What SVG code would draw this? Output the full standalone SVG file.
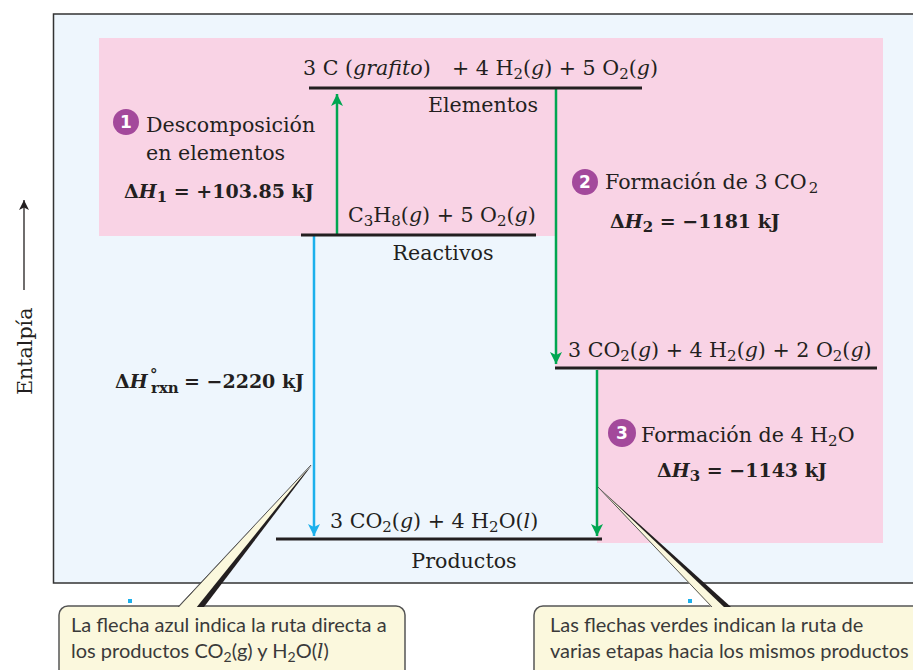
<svg xmlns="http://www.w3.org/2000/svg" width="913" height="670" viewBox="0 0 913 670">
<defs>
<style>
.t{font-family:"DejaVu Serif","Liberation Serif",serif;font-size:20.6px;fill:#231f20}
.b{font-weight:bold;font-size:19px}
.i{font-style:italic}
.s{font-size:15px}
.lvl{stroke:#231f20;stroke-width:3}
.g{stroke:#00a651;stroke-width:2.5;fill:none}
.bl{stroke:#1cb0ec;stroke-width:2.5;fill:none}
.num{font-family:"DejaVu Sans","Liberation Sans",sans-serif;font-size:17px;font-weight:bold;fill:#fff}
.c{fill:#a3499b}
.co{font-family:"Lato","Liberation Sans",sans-serif;font-size:20px;fill:#3a3a3a}
.cs{font-size:14px}
.box{fill:#fbf8dd;stroke:#555;stroke-width:1.5}
</style>
<marker id="ag" markerUnits="userSpaceOnUse" markerWidth="14" markerHeight="16" refX="12" refY="6" orient="auto">
<path d="M0,0 L12,6 L0,12 L3,6 Z" fill="#00a651"/>
</marker>
<marker id="ab" markerUnits="userSpaceOnUse" markerWidth="14" markerHeight="16" refX="12" refY="6" orient="auto">
<path d="M0,0 L12,6 L0,12 L3,6 Z" fill="#1cb0ec"/>
</marker>
<marker id="ak" markerUnits="userSpaceOnUse" markerWidth="12" markerHeight="12" refX="10" refY="5" orient="auto">
<path d="M0,0 L10,5 L0,10 L2.5,5 Z" fill="#231f20"/>
</marker>
</defs>
<rect x="0" y="0" width="913" height="670" fill="#fff"/>
<rect id="frame" x="53.5" y="14" width="870" height="569" fill="#eef6fd" stroke="#333" stroke-width="1.5"/>
<polygon id="pink" points="99,38 883,38 883,543 597,543 597,368 555,368 555,236 99,236" fill="#f9d3e5"/>

<g id="axis">
<line x1="24" y1="290" x2="24" y2="200" stroke="#231f20" stroke-width="1.3" marker-end="url(#ak)"/>
<text class="t" transform="translate(32,395) rotate(-90)">Entalpía</text>
</g>

<g id="connectors">
<line class="g" x1="337" y1="234" x2="337" y2="94" marker-end="url(#ag)"/>
<line class="g" x1="556" y1="89" x2="556" y2="364" marker-end="url(#ag)"/>
<line class="g" x1="597" y1="370" x2="597" y2="536" marker-end="url(#ag)"/>
<line class="bl" x1="314" y1="236" x2="314" y2="536" marker-end="url(#ab)"/>
</g>

<g id="elementos">
<line class="lvl" x1="309" y1="88" x2="642" y2="88"/>
<text class="t" x="303" y="75">3 C (<tspan class="i">grafito</tspan>)</text>
<text class="t" x="452" y="75">+ 4 H<tspan class="s" dy="4">2</tspan><tspan dy="-4">(</tspan><tspan class="i">g</tspan>) + 5 O<tspan class="s" dy="4">2</tspan><tspan dy="-4">(</tspan><tspan class="i">g</tspan>)</text>
<text class="t" x="483" y="112" text-anchor="middle">Elementos</text>
</g>

<g id="reactivos">
<line class="lvl" x1="301" y1="235" x2="536" y2="235"/>
<text class="t" x="348" y="222">C<tspan class="s" dy="4">3</tspan><tspan dy="-4">H</tspan><tspan class="s" dy="4">8</tspan><tspan dy="-4">(</tspan><tspan class="i">g</tspan>) + 5 O<tspan class="s" dy="4">2</tspan><tspan dy="-4">(</tspan><tspan class="i">g</tspan>)</text>
<text class="t" x="443" y="260" text-anchor="middle">Reactivos</text>
</g>

<g id="intermedio">
<line class="lvl" x1="555" y1="368" x2="877" y2="368"/>
<text class="t" x="568" y="357">3 CO<tspan class="s" dy="4">2</tspan><tspan dy="-4">(</tspan><tspan class="i">g</tspan>) + 4 H<tspan class="s" dy="4">2</tspan><tspan dy="-4">(</tspan><tspan class="i">g</tspan>) + 2 O<tspan class="s" dy="4">2</tspan><tspan dy="-4">(</tspan><tspan class="i">g</tspan>)</text>
</g>

<g id="productos">
<line class="lvl" x1="276" y1="539" x2="602" y2="539"/>
<text class="t" x="330" y="528">3 CO<tspan class="s" dy="4">2</tspan><tspan dy="-4">(</tspan><tspan class="i">g</tspan>) + 4 H<tspan class="s" dy="4">2</tspan><tspan dy="-4">O(</tspan><tspan class="i">l</tspan>)</text>
<text class="t" x="464" y="568" text-anchor="middle">Productos</text>
</g>

<g id="paso1">
<circle class="c" cx="126" cy="122" r="13"/>
<text class="num" x="126" y="128" text-anchor="middle">1</text>
<text class="t" x="146" y="132">Descomposición</text>
<text class="t" x="146" y="160">en elementos</text>
<text class="t b" x="124" y="198">Δ<tspan class="i">H</tspan><tspan class="s" dy="4">1</tspan><tspan dy="-4"> = +103.85 kJ</tspan></text>
</g>

<g id="paso2">
<circle class="c" cx="585" cy="182" r="13"/>
<text class="num" x="585" y="188" text-anchor="middle">2</text>
<text class="t" x="605" y="189">Formación de 3 CO<tspan class="s" dx="2" dy="4">2</tspan></text>
<text class="t b" x="610" y="228">Δ<tspan class="i">H</tspan><tspan class="s" dy="4">2</tspan><tspan dy="-4"> = −1181 kJ</tspan></text>
</g>

<g id="paso3">
<circle class="c" cx="622" cy="433" r="14"/>
<text class="num" x="622" y="439" text-anchor="middle">3</text>
<text class="t" x="641" y="442">Formación de 4 H<tspan class="s" dy="4">2</tspan><tspan dy="-4">O</tspan></text>
<text class="t b" x="657" y="477">Δ<tspan class="i">H</tspan><tspan class="s" dy="4">3</tspan><tspan dy="-4"> = −1143 kJ</tspan></text>
</g>

<g id="directa">
<text class="t b" x="115" y="388">Δ<tspan class="i">H</tspan><tspan class="s" x="150" y="380">°</tspan><tspan class="s" x="151" y="393">rxn</tspan><tspan x="184" y="388">= −2220 kJ</tspan></text>
</g>

<g id="callout1">
<rect class="box" x="59" y="606" width="346" height="80" rx="9"/>
<polygon points="178,607 204,607 312,465" fill="#231f20"/>
<polygon points="178,608 196,608 311,465" fill="#fbf8dd"/>
<line x1="178" y1="607" x2="311" y2="465" stroke="#555" stroke-width="1"/>
<rect x="128" y="599" width="4" height="4" fill="#1cb0ec"/>
<text class="co" x="71" y="632">La flecha azul indica la ruta directa a</text>
<text class="co" x="71" y="658">los productos CO<tspan class="cs" dy="4">2</tspan><tspan dy="-4">(g) y H</tspan><tspan class="cs" dy="4">2</tspan><tspan dy="-4">O(</tspan><tspan font-family="DejaVu Serif,serif" font-style="italic">l</tspan>)</text>
</g>

<g id="callout2">
<rect class="box" x="534" y="606" width="400" height="80" rx="9"/>
<polygon points="712,607 731,607 598,487" fill="#231f20"/>
<polygon points="712,608 725,608 598,487" fill="#fbf8dd"/>
<line x1="712" y1="607" x2="598" y2="487" stroke="#555" stroke-width="1"/>
<rect x="688" y="599" width="4" height="4" fill="#1cb0ec"/>
<text class="co" x="550" y="632">Las flechas verdes indican la ruta de</text>
<text class="co" x="550" y="658">varias etapas hacia los mismos productos</text>
</g>
</svg>
